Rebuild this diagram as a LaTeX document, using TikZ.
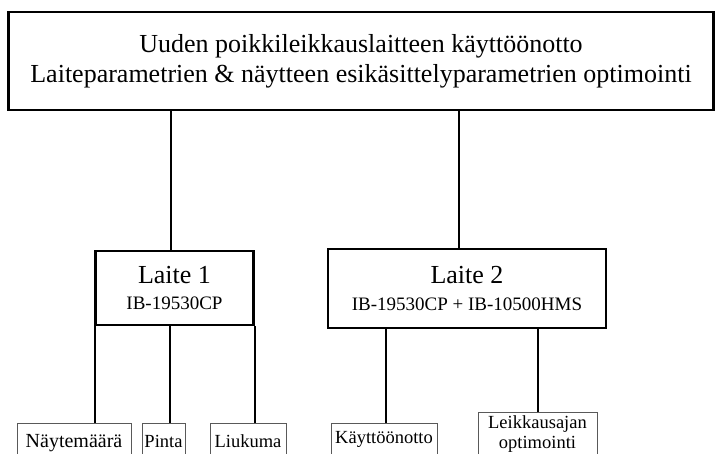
\documentclass[tikz,border=0pt]{standalone}
\usepackage{fontspec}
\setmainfont{Liberation Serif}
\begin{document}
\begin{tikzpicture}[x=1pt,y=-1pt,
  mainbox/.style={draw=black, line width=2.6pt, inner sep=0pt, align=center},
  leafbox/.style={draw=black!65, line width=0.9pt, anchor=north, inner xsep=0pt,
    font=\fontsize{18.5}{20}\selectfont, text height=13pt, text depth=30pt},
  link/.style={draw=black, line width=2.8pt}]
\useasboundingbox (0,0) rectangle (716,454);
\clip (0,0) rectangle (716,454);

\node[mainbox, minimum width=705, minimum height=98,
  font=\fontsize{26}{30}\selectfont] (top) at (361,61)
  {Uuden poikkileikkauslaitteen käyttöönotto\\Laiteparametrien \& näytteen esikäsittelyparametrien optimointi};

\node[mainbox, minimum width=158, minimum height=74,
  font=\fontsize{26}{24}\selectfont] (l1) at (174.5,288)
  {\raisebox{2pt}{Laite 1}\\{\fontsize{19}{22}\selectfont IB-19530CP}};
\node[mainbox, minimum width=278, minimum height=79,
  font=\fontsize{26}{25}\selectfont] (l2) at (467,288.5)
  {\raisebox{2pt}{Laite 2}\\{\fontsize{19}{22}\selectfont IB-19530CP + IB-10500HMS}};

\node[leafbox, minimum width=114, inner ysep=11pt, font=\fontsize{20}{20}\selectfont] (n1) at (74,423) {Näytemäärä};
\node[leafbox, minimum width=43, inner ysep=11pt] (n2) at (163.5,423) {Pinta};
\node[leafbox, minimum width=76, inner ysep=11pt] (n3) at (248,423) {Liukuma};
\node[leafbox, minimum width=106, inner ysep=7pt] (n4) at (384,423) {Käyttöönotto};
\node[leafbox, minimum width=119, inner ysep=3pt] (n5) at (537.5,412)
  {\begin{tabular}[t]{@{}c@{}}Leikkausajan\\optimointi\end{tabular}};

\coordinate (c1) at (171,0);
\coordinate (c2) at (459,0);
\coordinate (d1) at (95,0);
\coordinate (d2) at (170,0);
\coordinate (d3) at (255,0);
\coordinate (e1) at (386,0);
\coordinate (e2) at (538,0);

\draw[link] (top.south -| c1) -- (l1.north -| c1);
\draw[link] (top.south -| c2) -- (l2.north -| c2);
\draw[link] (l1.south -| d1) -- (n1.north -| d1);
\draw[link] (l1.south -| d2) -- (n2.north -| d2);
\draw[link] (l1.south -| d3) -- (n3.north -| d3);
\draw[link] (l2.south -| e1) -- (n4.north -| e1);
\draw[link] (l2.south -| e2) -- (n5.north -| e2);
\end{tikzpicture}
\end{document}
